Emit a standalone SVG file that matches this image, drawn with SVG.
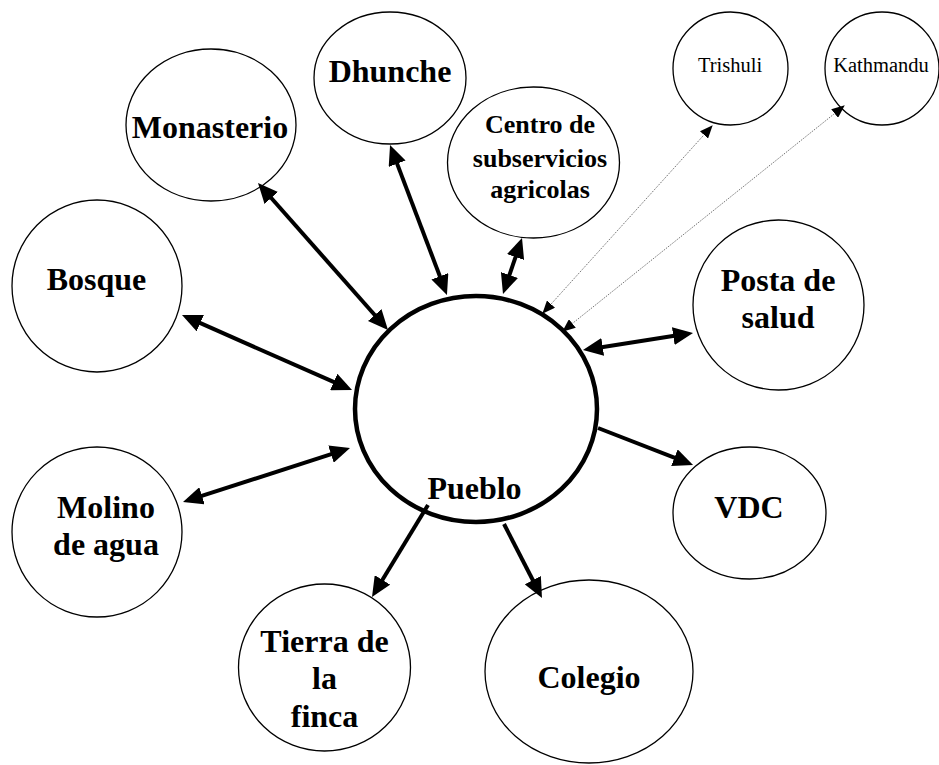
<svg xmlns="http://www.w3.org/2000/svg" width="939" height="765" viewBox="0 0 939 765">
<style>
.node{fill:#fff;stroke:#000;stroke-width:1.3}
.main{fill:#fff;stroke:#000;stroke-width:4.5}
.lbl{font-family:"Liberation Serif","Times New Roman",serif;font-weight:bold;font-size:32px;text-anchor:middle;fill:#000}
.sm{font-family:"Liberation Serif","Times New Roman",serif;font-size:20.5px;text-anchor:middle;fill:#000}
.cen{font-size:26px}
.thick{stroke:#000;stroke-width:4;fill:none}
.dot{stroke:#666;stroke-width:1;stroke-dasharray:1.2,1.2;fill:none}
</style>
<defs>
<marker id="ah" markerUnits="userSpaceOnUse" markerWidth="20" markerHeight="18" refX="6" refY="9" orient="auto-start-reverse">
<path d="M0,0 L20,9 L0,18 z" fill="#000"/>
</marker>
<marker id="sh" markerUnits="userSpaceOnUse" markerWidth="13" markerHeight="11" refX="12" refY="5.5" orient="auto-start-reverse">
<path d="M0,0 L13,5.5 L0,11 z" fill="#000"/>
</marker>
</defs>
<rect width="939" height="765" fill="#fff"/>
<g id="node-monasterio"><ellipse class="node" cx="211" cy="125" rx="85" ry="76"/><text class="lbl" x="210" y="138">Monasterio</text></g>
<g id="node-dhunche"><ellipse class="node" cx="390" cy="78" rx="76" ry="66"/><text class="lbl" x="390" y="82">Dhunche</text></g>
<g id="node-centro"><ellipse class="node" cx="533.5" cy="162.5" rx="86" ry="75.5"/><text class="lbl cen" x="540" y="133">Centro de</text><text class="lbl cen" x="540" y="167">subservicios</text><text class="lbl cen" x="540" y="198">agricolas</text></g>
<g id="node-trishuli"><ellipse class="node" cx="730.5" cy="68.5" rx="57.5" ry="56.5"/><text class="sm" x="730" y="72">Trishuli</text></g>
<g id="node-kathmandu"><ellipse class="node" cx="882" cy="68.5" rx="57" ry="56.5"/><text class="sm" x="881" y="72">Kathmandu</text></g>
<g id="node-posta"><ellipse class="node" cx="778.5" cy="305" rx="85.5" ry="85"/><text class="lbl" x="778" y="291">Posta de</text><text class="lbl" x="778" y="328">salud</text></g>
<g id="node-bosque"><ellipse class="node" cx="97" cy="286" rx="85" ry="86"/><text class="lbl" x="96.5" y="290">Bosque</text></g>
<g id="node-molino"><ellipse class="node" cx="97" cy="532" rx="85" ry="85"/><text class="lbl" x="106" y="518">Molino</text><text class="lbl" x="106" y="555">de agua</text></g>
<g id="node-vdc"><ellipse class="node" cx="749.5" cy="513" rx="76.5" ry="66"/><text class="lbl" x="749" y="518">VDC</text></g>
<g id="node-tierra"><ellipse class="node" cx="324.5" cy="667.5" rx="86" ry="83.5"/><text class="lbl" x="324.5" y="652">Tierra de</text><text class="lbl" x="324.5" y="689">la</text><text class="lbl" x="324.5" y="727">finca</text></g>
<g id="node-colegio"><ellipse class="node" cx="589" cy="671.5" rx="104" ry="91.5"/><text class="lbl" x="589" y="688">Colegio</text></g>
<g id="node-pueblo"><ellipse class="main" cx="476" cy="409" rx="121" ry="113"/><text class="lbl" x="474.5" y="499">Pueblo</text></g>
<g id="connectors">
<line class="thick" x1="267.3" y1="193.5" x2="378.7" y2="319.5" marker-start="url(#ah)" marker-end="url(#ah)"/>
<line class="thick" x1="194.8" y1="320.7" x2="339.2" y2="384.4" marker-start="url(#ah)" marker-end="url(#ah)"/>
<line class="thick" x1="395" y1="158.1" x2="442" y2="281.9" marker-start="url(#ah)" marker-end="url(#ah)"/>
<line class="thick" x1="517.5" y1="251.3" x2="507.5" y2="280.7" marker-start="url(#ah)" marker-end="url(#ah)"/>
<line class="thick" x1="596.8" y1="347.9" x2="679.2" y2="335.1" marker-start="url(#ah)" marker-end="url(#ah)"/>
<line class="thick" x1="598" y1="428" x2="680" y2="459.9" marker-end="url(#ah)"/>
<line class="thick" x1="196.3" y1="497.7" x2="336.7" y2="452.3" marker-start="url(#ah)" marker-end="url(#ah)"/>
<line class="thick" x1="428" y1="505" x2="379.3" y2="585" marker-end="url(#ah)"/>
<line class="thick" x1="504" y1="524" x2="535.6" y2="585.5" marker-end="url(#ah)"/>
<line class="dot" x1="543" y1="313" x2="712" y2="126" marker-start="url(#sh)" marker-end="url(#sh)"/>
<line class="dot" x1="563" y1="331" x2="844" y2="106" marker-start="url(#sh)" marker-end="url(#sh)"/>
</g>
</svg>
